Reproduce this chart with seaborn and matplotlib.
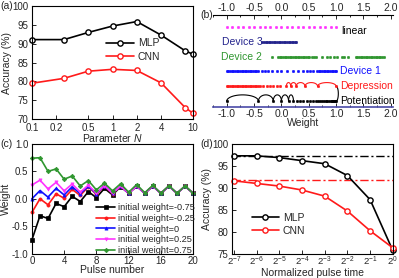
import numpy as np
import pandas as pd
import matplotlib
matplotlib.use("Agg")
import matplotlib.pyplot as plt
import seaborn as sns

sns.set_style("ticks")
plt.rcParams['font.family'] = ['Liberation Sans', 'DejaVu Sans']
plt.rcParams['font.size'] = 7
plt.rcParams['mathtext.fontset'] = 'custom'
plt.rcParams['mathtext.rm'] = 'Liberation Sans'
plt.rcParams['mathtext.it'] = 'Liberation Sans:italic'
plt.rcParams['axes.linewidth'] = 0.8

# (a) accuracy vs parameter N
param_n = [0.1, 0.25, 0.5, 1, 2, 4, 8, 10]
mlp_a = [91.1, 91.1, 93.0, 94.7, 95.9, 92.3, 88.1, 87.2]
cnn_a = [79.5, 80.8, 82.7, 83.2, 82.9, 79.6, 73.0, 71.5]
n_ticks = [0.1, 0.2, 0.5, 1, 2, 4, 10]
n_labels = ["0.1", "0.2", "0.5", "1", "2", "4", "10"]

# (b) weight distributions
linear_w = [-1.0, -0.9, -0.8, -0.7, -0.6, -0.5, -0.4, -0.3, -0.2, -0.1, 0.0,
            0.1, 0.2, 0.3, 0.4, 0.5, 0.6, 0.7, 0.8, 0.9, 1.0]
device3_w = [-0.35, -0.32, -0.29, -0.26, -0.23, -0.2, -0.17, -0.14, -0.11, -0.08,
             -0.05, -0.02, 0.01, 0.04, 0.07, 0.1, 0.13, 0.16, 0.19, 0.22, 0.25, 0.27]
device2_w = [-0.17, -0.06, -0.03, 0.0, 0.03, 0.06, 0.09, 0.12, 0.15, 0.18, 0.21,
             0.24, 0.27, 0.3, 0.33, 0.36, 0.39, 0.42, 0.45, 0.48, 0.51, 0.55, 0.59,
             0.63, 0.74, 0.83, 0.88, 0.97, 1.02, 1.1, 1.15, 1.21, 1.36, 1.39, 1.42,
             1.45, 1.48, 1.51, 1.54, 1.57, 1.6, 1.63, 1.66, 1.69, 1.72, 1.75, 1.78,
             1.81, 1.84, 1.87]
device1_w = [-1.0, -0.97, -0.94, -0.91, -0.88, -0.85, -0.82, -0.79, -0.76, -0.73,
             -0.7, -0.67, -0.64, -0.61, -0.58, -0.55, -0.52, -0.49, -0.46, -0.43,
             -0.36, -0.3, -0.24, -0.18, -0.09, 0.0, 0.1, 0.22, 0.31, 0.4, 0.46,
             0.52, 0.58, 0.65, 0.68, 0.71, 0.74, 0.77, 0.8, 0.83, 0.86, 0.89, 0.92,
             0.95, 0.98, 1.0]
depression_w = [-1.0, -0.97, -0.94, -0.91, -0.88, -0.85, -0.82, -0.79, -0.76, -0.73,
                -0.7, -0.67, -0.64, -0.61, -0.58, -0.55, -0.52, -0.49, -0.46, -0.43,
                -0.4, -0.33, -0.27, -0.21, -0.15, -0.09, -0.03, 0.09, 0.17, 0.27,
                0.43, 0.66, 1.0]
potentiation_w = [-1.0, -0.42, -0.15, 0.0, 0.13, 0.22, 0.28, 0.34, 0.40, 0.46, 0.52,
                  0.58, 0.63, 0.67, 0.71, 0.75, 0.78, 0.81, 0.84, 0.87, 0.9, 0.92,
                  0.94, 0.96, 0.98, 1.0]

# (c) weight vs pulse number
pulse = list(range(21))
w_m075 = [-0.75, -0.31, -0.36, -0.085, -0.145, 0.045, -0.05, 0.13, 0.02, 0.19, 0.07,
          0.22, 0.10, 0.23, 0.10, 0.23, 0.10, 0.23, 0.10, 0.23, 0.10]
w_m025 = [-0.25, 0.0, -0.11, 0.09, 0.01, 0.17, 0.06, 0.22, 0.08, 0.23, 0.09,
          0.23, 0.10, 0.23, 0.10, 0.23, 0.10, 0.23, 0.10, 0.23, 0.10]
w_0 = [0.0, 0.15, 0.03, 0.19, 0.07, 0.22, 0.09, 0.23, 0.09, 0.24, 0.10,
       0.23, 0.10, 0.23, 0.10, 0.23, 0.10, 0.23, 0.10, 0.23, 0.10]
w_025 = [0.25, 0.34, 0.18, 0.30, 0.145, 0.27, 0.12, 0.25, 0.10, 0.24, 0.10,
         0.23, 0.10, 0.23, 0.10, 0.23, 0.10, 0.23, 0.10, 0.23, 0.10]
w_075 = [0.74, 0.75, 0.50, 0.545, 0.357, 0.416, 0.233, 0.333, 0.162, 0.286, 0.145,
         0.274, 0.12, 0.26, 0.11, 0.245, 0.10, 0.24, 0.10, 0.235, 0.10]

# (d) accuracy vs normalized pulse time
pulse_time = [2**-7, 2**-6, 2**-5, 2**-4, 2**-3, 2**-2, 2**-1, 2**0]
time_labels = ["$2^{-7}$", "$2^{-6}$", "$2^{-5}$", "$2^{-4}$", "$2^{-3}$",
               "$2^{-2}$", "$2^{-1}$", "$2^{0}$"]
mlp_d = [97.3, 97.3, 96.9, 96.2, 95.5, 92.8, 87.3, 75.7]
cnn_d = [91.6, 91.0, 90.4, 89.5, 88.1, 84.7, 80.2, 76.3]
mlp_ref = 97.3
cnn_ref = 91.7

RED = "#ff1a1a"
BLUE = "#1010ff"
MAGENTA = "#ff33ff"
GREEN = "#2f962f"
NAVY = "#23238c"

fig = plt.figure(figsize=(3.99, 2.78), dpi=100)
ax_a = fig.add_axes([0.080, 0.572, 0.404, 0.406])
ax_b = fig.add_axes([0.534, 0.615, 0.451, 0.331])
ax_c = fig.add_axes([0.080, 0.088, 0.404, 0.394])
ax_d = fig.add_axes([0.581, 0.088, 0.404, 0.394])


def style_box(ax):
    for s in ax.spines.values():
        s.set_visible(True)
        s.set_color("black")
    ax.tick_params(direction="in", length=3, width=0.7, labelsize=7, pad=1.5)
    ax.tick_params(axis="y", pad=2.5)


def mk(col):
    return dict(marker="o", markersize=3.8, markerfacecolor="white",
                markeredgecolor=col, markeredgewidth=1.0, linewidth=1.2,
                clip_on=False)


# ---- (a)
sns.lineplot(x=param_n, y=mlp_a, color="black", label="MLP", ax=ax_a, **mk("black"))
sns.lineplot(x=param_n, y=cnn_a, color=RED, label="CNN", ax=ax_a, **mk(RED))
ax_a.set_xscale("log")
ax_a.set_xlim(0.1, 10)
ax_a.set_ylim(70, 100)
ax_a.set_xticks(n_ticks)
ax_a.set_xticklabels(n_labels)
ax_a.minorticks_off()
ax_a.set_yticks([70, 75, 80, 85, 90, 95, 100])
ax_a.set_xlabel("Parameter $\\mathit{N}$", fontsize=7.5, labelpad=-0.5)
ax_a.set_ylabel("Accuracy (%)", fontsize=7.5, labelpad=0.5)
style_box(ax_a)
ax_a.tick_params(axis="x", pad=2.8)
ax_a.legend(loc="upper left", bbox_to_anchor=(0.43, 0.76), frameon=False,
            fontsize=7.5, handlelength=2.6, labelspacing=0.3, borderpad=0,
            handletextpad=0.4)

# ---- (b)
rows = [
    (linear_w, 6, MAGENTA),
    (device3_w, 5, NAVY),
    (device2_w, 4, GREEN),
    (device1_w, 3, BLUE),
    (depression_w, 2, RED),
    (potentiation_w, 1, "black"),
]
for vals, yv, col in rows:
    sns.scatterplot(x=vals, y=[yv] * len(vals), color=col, s=3.5, edgecolor=col,
                    linewidth=0.3, ax=ax_b, legend=False, zorder=3)


def arc(ax, x0, x1, y, h, col):
    t = np.linspace(0, np.pi, 30)
    xc, r = (x0 + x1) / 2, (x1 - x0) / 2
    ax.plot(xc - r * np.cos(t), y + h * np.sin(t), color=col, lw=0.8)


for i in range(5):
    arc(ax_b, potentiation_w[i], potentiation_w[i + 1], 1, 0.42, "black")
dep_top = depression_w[-6:]
for i in range(5):
    arc(ax_b, dep_top[i], dep_top[i + 1], 2, 0.25, RED)
t = np.linspace(0, np.pi, 30)
ax_b.plot(1.0 + 0.04 * np.sin(t), 1 + (1 - np.cos(t)) / 2, color="black", lw=0.8)

ax_b.text(1.1, 5.7, "linear", fontsize=7.5, va="center", ha="left", color="black")
ax_b.text(-0.34, 5, "Device 3", fontsize=7.5, va="center", ha="right", color=NAVY)
ax_b.text(-0.35, 4, "Device 2", fontsize=7.5, va="center", ha="right", color=GREEN)
ax_b.text(1.07, 3, "Device 1", fontsize=7.5, va="center", ha="left", color=BLUE)
ax_b.text(1.07, 2, "Depression", fontsize=7.5, va="center", ha="left", color=RED)
ax_b.text(1.07, 1, "Potentiation", fontsize=7.5, va="center", ha="left", color="black")

ax_b.set_xlim(-1.25, 2.04)
ax_b.set_ylim(0.6, 6.81)
ax_b.set_yticks([])
ax_b.set_xticks([-1.0, -0.5, 0.0, 0.5, 1.0, 1.5, 2.0])
ax_b.set_xticklabels(["-1.0", "-0.5", "0.0", "0.5", "1.0", "1.5", "2.0"])
ax_b.set_xticks(np.arange(-1.25, 2.05, 0.25), minor=True)
for s in ["left", "right"]:
    ax_b.spines[s].set_visible(False)
ax_b.spines["top"].set_visible(True)
ax_b.spines["top"].set_color("black")
ax_b.spines["bottom"].set_visible(True)
ax_b.spines["bottom"].set_color("#4a4aa8")
ax_b.spines["bottom"].set_linewidth(1.2)
ax_b.tick_params(axis="x", which="both", direction="in", top=True, bottom=True,
                 labeltop=True, labelbottom=True, labelsize=7.5, pad=1.5, width=0.7)
ax_b.tick_params(axis="x", which="major", length=3)
ax_b.tick_params(axis="x", which="minor", length=1.5)
ax_b.set_xlabel("Weight", fontsize=7.5, labelpad=-0.5)

# ---- (c)
series_c = [
    (w_m075, "initial weight=-0.75", "black", "s"),
    (w_m025, "initial weight=-0.25", RED, "o"),
    (w_0, "initial weight=0", BLUE, "^"),
    (w_025, "initial weight=0.25", MAGENTA, "v"),
    (w_075, "initial weight=0.75", GREEN, "D"),
]
for vals, lab, col, m in series_c:
    sns.lineplot(x=pulse, y=vals, color=col, label=lab, marker=m, markersize=2.3,
                 markeredgecolor=col, markeredgewidth=0.5, linewidth=1.2,
                 ax=ax_c, clip_on=False)
ax_c.set_xlim(0, 20)
ax_c.set_ylim(-1.0, 1.0)
ax_c.set_xticks([0, 4, 8, 12, 16, 20])
ax_c.set_yticks([-1.0, -0.5, 0.0, 0.5, 1.0])
ax_c.set_yticklabels(["-1.0", "-0.5", "0.0", "0.5", "1.0"])
ax_c.set_xlabel("Pulse number", fontsize=7.5, labelpad=-0.5)
ax_c.set_ylabel("Weight", fontsize=7.5, labelpad=0.5)
style_box(ax_c)
ax_c.legend(loc="upper left", bbox_to_anchor=(0.37, 0.50), frameon=False,
            fontsize=6.6, handlelength=2.1, labelspacing=0.18, borderpad=0,
            handletextpad=0.3)

# ---- (d)
sns.lineplot(x=pulse_time, y=mlp_d, color="black", label="MLP", ax=ax_d, **mk("black"))
sns.lineplot(x=pulse_time, y=cnn_d, color=RED, label="CNN", ax=ax_d, **mk(RED))
ax_d.axhline(mlp_ref, color="black", lw=1.0, ls=(0, (6, 2, 1.5, 2)), zorder=1)
ax_d.axhline(cnn_ref, color=RED, lw=1.0, ls=(0, (6, 2, 1.5, 2)), zorder=1)
ax_d.set_xscale("log", base=2)
ax_d.set_xlim(2**-7.09, 2**0.01)
ax_d.set_ylim(75, 100)
ax_d.set_xticks(pulse_time)
ax_d.set_xticklabels(time_labels)
ax_d.minorticks_off()
ax_d.set_yticks([75, 80, 85, 90, 95, 100])
ax_d.set_xlabel("Normalized pulse time", fontsize=7.5, labelpad=0)
ax_d.set_ylabel("Accuracy (%)", fontsize=7.5, labelpad=0.5)
style_box(ax_d)
ax_d.tick_params(axis="x", labelsize=6.8, pad=1.0)
ax_d.legend(loc="upper left", bbox_to_anchor=(0.09, 0.42), frameon=False,
            fontsize=7.5, handlelength=2.6, labelspacing=0.3, borderpad=0,
            handletextpad=0.4)

# panel letters
fig.text(0.0, 0.978, "(a)", fontsize=7.5, va="center", ha="left")
fig.text(0.503, 0.946, "(b)", fontsize=7.5, va="center", ha="left")
fig.text(0.0, 0.482, "(c)", fontsize=7.5, va="center", ha="left")
fig.text(0.503, 0.482, "(d)", fontsize=7.5, va="center", ha="left")

fig.savefig("out.png", dpi=100)
